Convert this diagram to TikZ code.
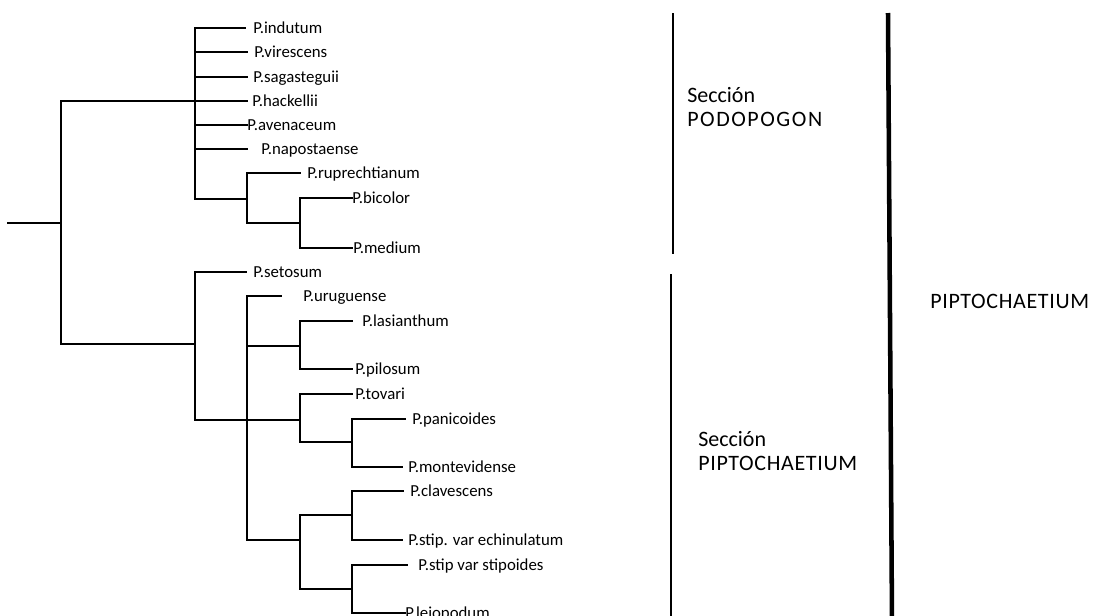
\documentclass[tikz,border=0pt]{standalone}
\usepackage{fontspec}
\setmainfont{Carlito}
\begin{document}
\begin{tikzpicture}[x=0.75pt,y=-0.75pt,
  br/.style={line width=1.1pt, line cap=rect, line join=miter},
  lab/.style={anchor=base west, inner sep=0pt, yshift=-4.1pt, font=\fontsize{12.6}{14}\selectfont},
  sec/.style={anchor=base west, inner sep=0pt, font=\fontsize{16.5}{19}\selectfont},
  thinbar/.style={line width=2.2pt},
  bigbar/.style={line width=3.4pt}]
\useasboundingbox (0,0) rectangle (1097,615);
\clip (0,0) rectangle (1097,615);
\fill[white] (0,0) rectangle (1097,615);
% leaf macro: name, branch x, y, tip x, text x, text
\newcommand{\leafline}[6]{%
  \coordinate (#1-b) at (#2,#3);
  \coordinate (#1-t) at (#4,#3);
  \node[lab] (#1) at (#5,#3) {#6};
  \draw[br] (#1-b) -- (#1-t);}
% ---------- root ----------
\coordinate (root) at (8,223);
\coordinate (rtop) at (61,101);
\coordinate (rmid) at (61,223);
\coordinate (rbot) at (61,344);
\draw[br] (root) -- (rmid);
\draw[br] (rtop) -- (rbot);
% ---------- Podopogon clade ----------
\coordinate (pTop) at (195,28);
\coordinate (pBot) at (195,199);
\draw[br] (pTop) -- (pBot);
\leafline{indutum}{195}{28}{245}{253}{P.indutum}
\leafline{virescens}{195}{52}{247}{254}{P.virescens}
\leafline{sagasteguii}{195}{77}{247}{253}{P.sagasteguii}
\leafline{hackellii}{61}{101}{247}{252}{P.hackellii}
\leafline{avenaceum}{195}{125}{247}{247}{P.avenaceum}
\leafline{napostaense}{195}{149}{247}{261}{P.napostaense}
\coordinate (c1) at (247,199);
\coordinate (c1t) at (247,173);
\coordinate (c1b) at (247,223);
\draw[br] (pBot) -- (c1);
\draw[br] (c1t) -- (c1b);
\leafline{ruprechtianum}{247}{173}{300}{307}{P.ruprechtianum}
\coordinate (c2) at (300,223);
\coordinate (c2t) at (300,198);
\coordinate (c2b) at (300,248);
\draw[br] (c1b) -- (c2);
\draw[br] (c2t) -- (c2b);
\leafline{bicolor}{300}{198}{352}{352}{P.bicolor}
\leafline{medium}{300}{248}{352}{353}{P.medium}
% ---------- Piptochaetium clade ----------
\coordinate (qTop) at (195,272);
\coordinate (qMid) at (195,344);
\coordinate (qBot) at (195,420);
\draw[br] (rbot) -- (qMid);
\draw[br] (qTop) -- (qBot);
\leafline{setosum}{195}{272}{246}{253}{P.setosum}
\coordinate (d1t) at (247,296);
\coordinate (d1b) at (247,540);
\draw[br] (d1t) -- (d1b);
\leafline{uruguense}{247}{296}{281}{303}{P.uruguense}
% lasianthum / pilosum
\coordinate (d2) at (247,346);
\coordinate (e1) at (300,346);
\coordinate (e1t) at (300,321);
\coordinate (e1b) at (300,369);
\draw[br] (d2) -- (e1);
\draw[br] (e1t) -- (e1b);
\leafline{lasianthum}{300}{321}{352}{362}{P.lasianthum}
\leafline{pilosum}{300}{369}{352}{355}{P.pilosum}
% tovari clade
\coordinate (e2) at (300,420);
\coordinate (e2t) at (300,394);
\coordinate (e2b) at (300,442);
\draw[br] (qBot) -- (e2);
\draw[br] (e2t) -- (e2b);
\leafline{tovari}{300}{394}{352}{355}{P.tovari}
\coordinate (f1) at (352,442);
\coordinate (f1t) at (352,419);
\coordinate (f1b) at (352,467);
\draw[br] (e2b) -- (f1);
\draw[br] (f1t) -- (f1b);
\leafline{panicoides}{352}{419}{405}{412}{P.panicoides}
\leafline{montevidense}{352}{467}{402}{408}{P.montevidense}
% lower clade
\coordinate (e3) at (300,540);
\coordinate (e3t) at (300,515);
\coordinate (e3b) at (300,589);
\draw[br] (d1b) -- (e3);
\draw[br] (e3t) -- (e3b);
\coordinate (f2) at (352,515);
\coordinate (f2t) at (352,491);
\coordinate (f2b) at (352,540);
\draw[br] (e3t) -- (f2);
\draw[br] (f2t) -- (f2b);
\leafline{clavescens}{352}{491}{403}{410}{P.clavescens}
\leafline{echinulatum}{352}{540}{402}{408}{P.stip. var echinulatum}
\coordinate (f3) at (352,589);
\coordinate (f3t) at (352,565);
\coordinate (f3b) at (352,613);
\draw[br] (e3b) -- (f3);
\draw[br] (f3t) -- (f3b);
\leafline{stipoides}{352}{565}{407}{418}{P.stip var stipoides}
\leafline{leiopodum}{352}{613}{405}{405}{P.leiopodum}
% ---------- section bars ----------
\coordinate (s1t) at (673,13);
\coordinate (s1b) at (673,254);
\coordinate (s2t) at (671,274);
\coordinate (s2b) at (671,620);
\coordinate (gt) at (888,13);
\coordinate (gb) at (892,620);
\draw[thinbar] (s1t) -- (s1b);
\draw[thinbar] (s2t) -- (s2b);
\draw[bigbar] (gt) -- (gb);
\node[sec] (secA1) at (687,102) {Sección};
\node[sec] (secA2) at (687,126) {\addfontfeature{LetterSpace=7}PODOPOGON};
\node[sec] (secB1) at (698,446) {Sección};
\node[sec] (secB2) at (698,470) {\addfontfeature{LetterSpace=3}PIPTOCHAETIUM};
\node[sec] (genus) at (930,308) {\addfontfeature{LetterSpace=3}PIPTOCHAETIUM};
\end{tikzpicture}
\end{document}
